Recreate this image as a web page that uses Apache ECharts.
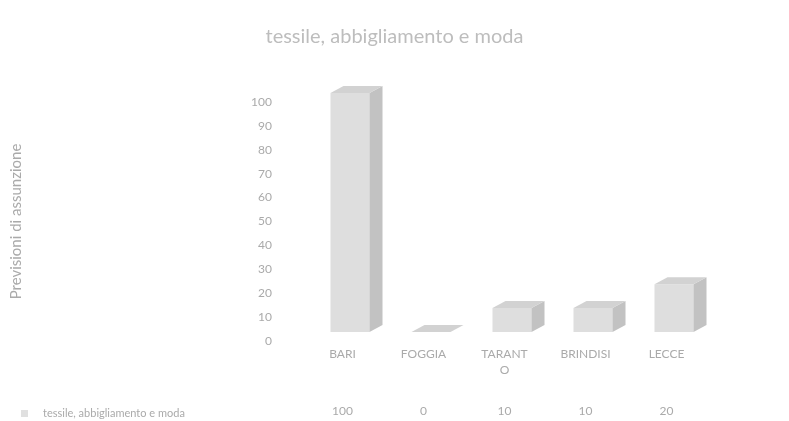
<!DOCTYPE html>
<html>
<head>
<meta charset="utf-8">
<script src="https://cdn.jsdelivr.net/npm/echarts@6/dist/echarts.min.js"></script>
<style>
	html, body { margin: 0; padding: 0; background: #fff; }
	#chart { width: 789px; height: 421px; }
</style>
</head>
<body>
<div id="chart"></div>
<script>
	const titleText = "tessile, abbigliamento e moda";
	const seriesName = "tessile, abbigliamento e moda";
	const categories = ["BARI", "FOGGIA", "TARANTO", "BRINDISI", "LECCE"];
	const values = [100, 0, 10, 10, 20];
	const yTicks = [0, 10, 20, 30, 40, 50, 60, 70, 80, 90, 100];

	const font = "Lato, 'Open Sans', sans-serif";
	const textColor = "#aaaaaa";

	const chart = echarts.init(document.getElementById("chart"));

	// disegna un parallelepipedo (fronte, lato, sopra) per ogni valore
	const renderBox = (params, api) => {
		const idx = api.value(0);
		const base = api.coord([idx, 0]);
		const top = api.coord([idx, api.value(1)]);
		const lift = 9;
		const x0 = base[0] - 12;
		const x1 = base[0] + 27;
		const yb = base[1] - lift;
		const yt = top[1] - lift;
		const dx = 13;
		const dy = 7;
		return {
			type: "group",
			children: [
				{
					type: "polygon",
					shape: { points: [[x0, yb], [x1, yb], [x1, yt], [x0, yt]] },
					style: { fill: "#dedede" }
				},
				{
					type: "polygon",
					shape: { points: [[x1, yb], [x1 + dx, yb - dy], [x1 + dx, yt - dy], [x1, yt]] },
					style: { fill: "#c2c2c2" }
				},
				{
					type: "polygon",
					shape: { points: [[x0, yt], [x1, yt], [x1 + dx, yt - dy], [x0 + dx, yt - dy]] },
					style: { fill: "#d2d2d2" }
				}
			]
		};
	};

	const option = {
		animation: false,
		title: {
			text: titleText,
			left: "center",
			top: 22,
			textStyle: { fontFamily: font, fontSize: 20, fontWeight: "normal", color: "#bdbdbd" }
		},
		legend: {
			left: 16,
			top: 403,
			itemWidth: 7,
			itemHeight: 7,
			data: [{ name: seriesName, icon: "rect", itemStyle: { color: "#e0e0e0" } }],
			textStyle: { fontFamily: font, fontSize: 11, color: textColor, padding: [0, 0, 0, 10] }
		},
		grid: { left: 302, right: 82, top: 102, bottom: 80 },
		xAxis: [
			{
				type: "category",
				data: categories,
				axisLine: { show: false },
				axisTick: { show: false },
				axisLabel: {
					margin: 5,
					fontFamily: font,
					fontSize: 12,
					color: textColor,
					width: 53,
					overflow: "breakAll",
					lineHeight: 16
				}
			},
			{
				type: "category",
				data: categories,
				position: "bottom",
				offset: 56,
				axisLine: { show: false },
				axisTick: { show: false },
				axisLabel: {
					fontFamily: font,
					fontSize: 12,
					color: textColor,
					formatter: (v, i) => String(values[i])
				}
			}
		],
		yAxis: {
			type: "value",
			min: 0,
			max: yTicks[yTicks.length - 1],
			interval: yTicks[1] - yTicks[0],
			name: "Previsioni di assunzione",
			nameLocation: "middle",
			nameRotate: 90,
			nameGap: 278,
			nameTextStyle: { fontFamily: font, fontSize: 15, color: textColor },
			axisLine: { show: false },
			axisTick: { show: false },
			splitLine: { show: false },
			axisLabel: { margin: 30, fontFamily: font, fontSize: 12, color: textColor }
		},
		series: [
			{
				name: seriesName,
				type: "custom",
				renderItem: renderBox,
				itemStyle: { color: "#e0e0e0" },
				encode: { x: 0, y: 1 },
				data: values.map((v, i) => [i, v])
			}
		]
	};

	chart.setOption(option);
	window.addEventListener("resize", () => chart.resize());
</script>
</body>
</html>
